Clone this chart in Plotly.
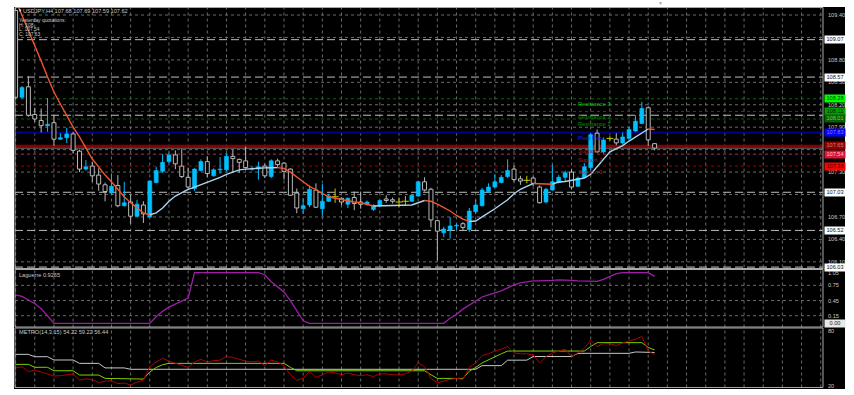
import plotly.graph_objects as go

# ---------------- data ----------------
bars = list(range(-1, 100))

opens = [109.46, 108.30, 108.44, 108.07, 107.99, 107.92, 107.96, 107.74, 107.76, 107.81,
         107.58, 107.34, 107.38, 107.26, 107.13, 107.02, 107.12, 106.85, 106.90, 106.71,
         106.86, 106.70, 107.16, 107.31, 107.44, 107.53, 107.38, 107.23, 107.08, 107.32,
         107.44, 107.25, 107.33, 107.33, 107.51, 107.47, 107.45, 107.34, 107.34, 107.38,
         107.24, 107.45, 107.42, 107.34, 107.02, 106.81, 106.86, 107.06, 106.81, 106.91,
         106.97, 106.95, 106.87, 106.96, 106.90, 106.87, 106.80, 106.85, 106.94, 106.93,
         106.90, 106.91, 106.91, 106.98, 107.17, 107.07, 106.65, 106.49, 106.53, 106.58,
         106.61, 106.53, 106.77, 106.85, 107.04, 107.10, 107.16, 107.24, 107.34, 107.21,
         107.19, 107.22, 107.10, 106.90, 107.06, 107.16, 107.23, 107.30, 107.11, 107.23,
         107.36, 107.82, 107.57, 107.75, 107.74, 107.69, 107.75, 107.85, 107.95, 108.16, 107.68]
highs = [109.52, 108.45, 108.58, 108.16, 108.15, 108.29, 108.06, 107.82, 107.89, 107.84,
         107.60, 107.46, 107.44, 107.35, 107.16, 107.28, 107.26, 107.17, 107.00, 106.93,
         106.91, 107.19, 107.37, 107.54, 107.56, 107.59, 107.61, 107.36, 107.35, 107.47,
         107.51, 107.35, 107.50, 107.55, 107.60, 107.48, 107.64, 107.38, 107.44, 107.41,
         107.47, 107.48, 107.43, 107.35, 107.08, 106.95, 107.12, 107.15, 107.14, 107.01,
         107.08, 106.96, 106.96, 107.04, 107.04, 106.92, 106.87, 106.93, 106.99, 106.96,
         106.96, 106.98, 107.00, 107.18, 107.23, 107.09, 106.66, 106.57, 106.70, 106.61,
         106.63, 106.82, 106.93, 107.09, 107.15, 107.27, 107.26, 107.47, 107.39, 107.25,
         107.25, 107.24, 107.12, 107.09, 107.40, 107.26, 107.32, 107.34, 107.24, 107.42,
         107.82, 107.87, 107.76, 107.78, 107.82, 107.83, 107.91, 108.06, 108.24, 108.18, 107.69]
lows = [108.27, 108.28, 108.04, 107.97, 107.83, 107.84, 107.65, 107.73, 107.69, 107.55,
        107.30, 107.32, 107.17, 107.05, 106.91, 107.00, 106.83, 106.84, 106.61, 106.70,
        106.62, 106.69, 107.15, 107.29, 107.42, 107.34, 107.22, 107.08, 107.05, 107.31,
        107.23, 107.24, 107.28, 107.31, 107.29, 107.29, 107.35, 107.32, 107.20, 107.22,
        107.22, 107.37, 107.20, 106.98, 106.75, 106.74, 106.83, 106.82, 106.71, 106.90,
        106.89, 106.86, 106.82, 106.79, 106.81, 106.85, 106.78, 106.84, 106.89, 106.88,
        106.83, 106.86, 106.90, 106.97, 107.04, 106.56, 106.12, 106.43, 106.41, 106.53,
        106.52, 106.50, 106.74, 106.84, 107.02, 107.09, 107.15, 107.22, 107.17, 107.13,
        107.15, 107.11, 106.88, 106.88, 107.05, 107.15, 107.18, 107.07, 107.10, 107.22,
        107.33, 107.56, 107.55, 107.72, 107.66, 107.67, 107.74, 107.84, 107.94, 107.65, 107.59]
closes = [108.30, 108.43, 108.06, 108.01, 107.92, 107.94, 107.74, 107.76, 107.81, 107.59,
          107.34, 107.37, 107.25, 107.14, 107.04, 107.11, 106.85, 106.89, 106.71, 106.87,
          106.74, 107.18, 107.32, 107.43, 107.53, 107.41, 107.24, 107.10, 107.34, 107.44,
          107.28, 107.33, 107.34, 107.51, 107.48, 107.43, 107.36, 107.35, 107.37, 107.25,
          107.45, 107.40, 107.31, 106.99, 106.82, 106.85, 107.07, 106.83, 106.91, 106.98,
          106.97, 106.90, 106.95, 106.88, 106.87, 106.90, 106.85, 106.92, 106.92, 106.91,
          106.90, 106.91, 106.99, 107.17, 107.06, 106.66, 106.51, 106.54, 106.58, 106.59,
          106.56, 106.78, 106.86, 107.06, 107.10, 107.17, 107.23, 107.32, 107.20, 107.18,
          107.19, 107.15, 106.89, 107.07, 107.17, 107.23, 107.29, 107.10, 107.22, 107.37,
          107.80, 107.57, 107.73, 107.75, 107.69, 107.77, 107.87, 107.98, 108.15, 107.73, 107.62]

moving_avg = [109.60, 109.40, 109.20, 109.00, 108.785, 108.57, 108.37, 108.21, 108.05, 107.90,
              107.77, 107.62, 107.475, 107.37, 107.26, 107.17, 107.07, 106.97, 106.89, 106.82,
              106.755, 106.73, 106.755, 106.82, 106.91, 106.98, 107.03, 107.07, 107.10, 107.13,
              107.17, 107.20, 107.23, 107.27, 107.30, 107.33, 107.34, 107.348, 107.354, 107.356,
              107.358, 107.36, 107.348, 107.30, 107.23, 107.17, 107.11, 107.06, 107.01, 106.97,
              106.95, 106.93, 106.91, 106.90, 106.89, 106.87, 106.847, 106.848, 106.849, 106.850,
              106.851, 106.853, 106.86, 106.89, 106.92, 106.91, 106.87, 106.83, 106.78, 106.72,
              106.67, 106.64, 106.646, 106.70, 106.75, 106.81, 106.87, 106.93, 107.01, 107.07,
              107.11, 107.147, 107.145, 107.141, 107.138, 107.167, 107.174, 107.187, 107.20, 107.22,
              107.27, 107.37, 107.475, 107.57, 107.615, 107.655, 107.715, 107.77, 107.83, 107.876, 107.869]

laguerre = [0.56, 0.53, 0.46, 0.39, 0.29, 0.15, 0, 0, 0, 0,
            0, 0, 0, 0, 0, 0, 0, 0, 0, 0,
            0, 0, 0.13, 0.24, 0.32, 0.38, 0.43, 0.50, 1.0, 1.0,
            1.0, 1.0, 1.0, 1.0, 1.0, 1.0, 1.0, 1.0, 1.0, 0.96,
            0.82, 0.72, 0.62, 0.45, 0.25, 0.05, 0, 0, 0, 0,
            0, 0, 0, 0, 0, 0, 0, 0, 0, 0,
            0, 0, 0, 0, 0, 0, 0, 0, 0.10, 0.18,
            0.28, 0.36, 0.44, 0.52, 0.56, 0.60, 0.64, 0.70, 0.76, 0.80,
            0.82, 0.84, 0.84, 0.84, 0.85, 0.86, 0.86, 0.85, 0.84, 0.84,
            0.84, 0.83, 0.87, 0.92, 0.98, 1.0, 1.0, 1.0, 1.0, 1.0, 0.9265]

metro_fast = [39.5, 40.8, 35.5, 37, 35, 33, 30.6, 31, 31.7, 33,
              26.3, 27.5, 26.8, 23.3, 25, 25.5, 22.3, 23, 20.7, 24,
              26, 40.8, 46, 50, 47, 44.5, 42, 40, 46, 49,
              45.7, 47.5, 48, 52, 51, 49, 47, 46, 47, 42,
              48, 46, 42, 32, 26, 28, 36, 29, 32, 35,
              34, 32, 34, 32, 31, 32, 30, 33, 33, 32,
              32, 33, 36, 45, 41, 28, 23, 25, 27, 28,
              27, 40, 45, 53, 55, 58, 60, 63, 56, 55,
              55, 54, 45, 52, 56, 58, 60, 52, 56, 61,
              70, 63, 66, 66, 64, 67, 69, 71, 74, 58, 54.22]
metro_step_fast = [43.4, 43.4, 43.4, 40.2, 40.2, 40.2, 36.4, 36.4, 36.4, 36.4,
                   31.7, 31.7, 31.7, 31.7, 28, 28, 28, 27.3, 27.3, 27.3,
                   27.3, 35, 40, 43, 44.5, 44.5, 44.5, 44.5, 44.5, 44.5,
                   44.5, 44.5, 44.5, 44.5, 44.5, 44.5, 44.5, 44.5, 44.5, 44.5,
                   44.5, 44.5, 44.5, 40.2, 36.4, 36.4, 36.4, 36.4, 36.4, 36.4,
                   36.4, 36.4, 36.4, 36.4, 36.4, 36.4, 36.4, 36.4, 36.4, 36.4,
                   36.4, 36.4, 36.4, 36.4, 36.4, 32, 28, 28, 28, 28,
                   28, 36, 40, 45, 48.5, 52, 55, 58, 58, 58,
                   58, 58, 58, 58, 58, 58, 58, 58, 58, 58,
                   63, 67.2, 67.2, 67.2, 67.2, 67.2, 67.2, 67.2, 67.2, 62, 59.22]
metro_step_slow = [54.4, 54.4, 54.4, 51.8, 51.8, 51.8, 48.2, 48.2, 48.2, 48.2,
                   44.5, 44.5, 44.5, 44.5, 39.5, 39.5, 39.5, 39.5, 38, 38,
                   38, 38, 38, 38, 38, 38, 38, 38, 38, 38,
                   38, 38, 38, 38, 38, 38, 38, 38, 38, 38,
                   38, 38, 38, 38, 38, 38, 38, 38, 38, 38,
                   38, 38, 38, 38, 38, 38, 38, 38, 38, 38,
                   38, 38, 38, 38, 38, 38, 38, 38, 38, 38,
                   38, 38, 38, 42, 42, 42, 42, 48, 48, 48,
                   48, 52, 52, 52, 52, 52, 52, 52, 55.5, 55.5,
                   55.5, 55.5, 55.5, 55.5, 55.5, 55.5, 55.5, 57, 57, 56.44, 56.44]

price_grid = [109.40, 109.10, 108.80, 108.50, 108.20, 107.90, 107.60, 107.30, 107.00, 106.70, 106.40, 106.10]
price_grid_labels = ["109.40", None, "108.80", "108.50", "108.20", "107.90", None, "107.30", None,
                     "106.70", "106.40", "106.10"]
round_levels = [109.07, 108.57, 108.06, 107.03, 106.52, 106.03]
round_labels = ["109.07", "108.57", None, "107.03", "106.52", "106.03"]
pivot_names = ["Resistance 3", "Resistance 2", "Resistance 1", "Pivot Point", "Support 1", "Support 2", "Support 3"]
pivot_levels = [108.28, 108.11, 108.01, 107.83, 107.65, 107.54, 107.38]
bid_price = 107.62
lag_grid = [0.75, 0.45, 0.15]
lag_labels = ["1.05", "0.75", "0.45", "0.15"]
metro_labels = ["80", "20"]
header = "USDJPY,H4 107.68 107.69 107.59 107.62"
yesterday = ["Yesterday quotations:", "H: 108", "L: 107.54", "C: 107.63"]

# ---------------- geometry / styles ----------------
W, H = 854, 395
PL, PR, PT, PB = 14, 845, 7, 389          # plot area in px
BAR0, STEP = 22.0, 6.39                   # bar centre px


def bx(px):
    return (px - BAR0) / STEP


def xp(px):
    return (px - PL) / (PR - PL)


def yp(py):
    return (PB - py) / (PB - PT)


def price_at(py):
    return 109.40 - (py - 15) / 74.8


def lag_at(py):
    return (323.3 - py) / 50.6


def met_at(py):
    return 80 - (py - 331) / 0.9117


MAIN_BOT, LAG_BOT, MET_BOT = 268.5, 327.0, 387.5
LEFT, RIGHT = 15, 823
X_L, X_R = bx(LEFT), bx(RIGHT)

CYAN = "#00BFFF"
BEARC = "#B8B8B8"
DOJI = "#C8C800"
GRID = "#6A6A6A"
FONT = "Liberation Sans"
FS = 5.6
TXT = "#C8C8C8"

fig = go.Figure()

n = len(bars)
bull = [i for i in range(n) if closes[i] > opens[i]]
bear = [i for i in range(n) if closes[i] < opens[i]]
doji = [i for i in range(n) if closes[i] == opens[i]]

# bodies
fig.add_trace(go.Bar(x=[bars[i] for i in bull], base=[opens[i] for i in bull],
                     y=[closes[i] - opens[i] for i in bull], width=0.62,
                     marker=dict(color=CYAN, line=dict(color=CYAN, width=0.6)), yaxis="y"))
fig.add_trace(go.Bar(x=[bars[i] for i in bear], base=[closes[i] for i in bear],
                     y=[opens[i] - closes[i] for i in bear], width=0.62,
                     marker=dict(color="black", line=dict(color=BEARC, width=1)), yaxis="y"))


def segs(idx, lo, hi):
    xs, ys = [], []
    for i in idx:
        xs += [bars[i], bars[i], None]
        ys += [lo(i), hi(i), None]
    return xs, ys


wx, wy = segs(bull, lambda i: lows[i], lambda i: highs[i])
fig.add_trace(go.Scatter(x=wx, y=wy, mode="lines", line=dict(color=CYAN, width=1), yaxis="y"))
ux, uy = segs(bear, lambda i: opens[i], lambda i: highs[i])
lx, ly = segs(bear, lambda i: lows[i], lambda i: closes[i])
fig.add_trace(go.Scatter(x=ux + lx, y=uy + ly, mode="lines", line=dict(color=BEARC, width=1), yaxis="y"))
dx, dy = segs(doji, lambda i: lows[i], lambda i: highs[i])
fig.add_trace(go.Scatter(x=dx, y=dy, mode="lines", line=dict(color=DOJI, width=1), yaxis="y"))
fig.add_trace(go.Scatter(x=[bars[i] for i in doji], y=[closes[i] for i in doji], mode="markers",
                         marker=dict(symbol="line-ew", size=5, line=dict(color=DOJI, width=1)), yaxis="y"))

# moving average coloured by direction
runs = {"down": ([], []), "up": ([], [])}
cur = None
for i in range(1, n):
    d = "down" if moving_avg[i] < moving_avg[i - 1] else "up"
    xs, ys = runs[d]
    if d != cur:
        if xs:
            xs.append(None)
            ys.append(None)
        xs += [bars[i - 1]]
        ys += [moving_avg[i - 1]]
        cur = d
    xs.append(bars[i])
    ys.append(moving_avg[i])
fig.add_trace(go.Scatter(x=runs["down"][0], y=runs["down"][1], mode="lines",
                         line=dict(color="#F2562E", width=1.4), yaxis="y"))
fig.add_trace(go.Scatter(x=runs["up"][0], y=runs["up"][1], mode="lines",
                         line=dict(color="#A9D6EE", width=1.4), yaxis="y"))

# Laguerre
fig.add_trace(go.Scatter(x=bars, y=laguerre, mode="lines", line=dict(color="#9C1FA6", width=1.3), yaxis="y2"))

# METRO
fig.add_trace(go.Scatter(x=bars, y=metro_step_slow, mode="lines", line=dict(color="#C8C8C8", width=1), yaxis="y3"))
fig.add_trace(go.Scatter(x=bars, y=metro_step_fast, mode="lines", line=dict(color="#7FD000", width=1), yaxis="y3"))
fig.add_trace(go.Scatter(x=bars, y=metro_fast, mode="lines", line=dict(color="#B00000", width=1), yaxis="y3"))

shapes = []
# vertical grid every 3 bars
v = -1
while bx(RIGHT) > v:
    shapes.append(dict(type="line", xref="x", yref="paper", x0=v, x1=v, y0=yp(MET_BOT), y1=yp(PT + 0.5),
                       line=dict(color=GRID, width=1, dash="dot"), layer="below"))
    v += 3
# horizontal price grid
for g in price_grid:
    shapes.append(dict(type="line", xref="x", yref="y", x0=X_L, x1=X_R, y0=g, y1=g,
                       line=dict(color=GRID, width=1, dash="dot"), layer="below"))
for g in lag_grid:
    shapes.append(dict(type="line", xref="x", yref="y2", x0=X_L, x1=X_R, y0=g, y1=g,
                       line=dict(color=GRID, width=1, dash="dot"), layer="below"))
# round levels
for g in round_levels:
    shapes.append(dict(type="line", xref="x", yref="y", x0=X_L, x1=X_R, y0=g, y1=g,
                       line=dict(color="#BEBEBE", width=1, dash="8px,4px"), layer="below"))
# pivot levels
piv_line = [("#007000", 1, "dot"), ("#006000", 1, "dot"), ("#006400", 1, "dot"),
            ("#00008B", 2, "solid"), ("#850000", 2.2, "solid"), ("#B03048", 1, "dot"), ("#A00000", 1, "dot")]
for g, (c, w, d) in zip(pivot_levels, piv_line):
    shapes.append(dict(type="line", xref="x", yref="y", x0=X_L, x1=X_R, y0=g, y1=g,
                       line=dict(color=c, width=w, dash=d), layer="below"))
shapes.append(dict(type="line", xref="x", yref="y", x0=X_L, x1=X_R, y0=bid_price, y1=bid_price,
                   line=dict(color="#9A9A9A", width=0.8), layer="below"))
# panel frames
for top, bot in [(PT + 0.5, MAIN_BOT), (MAIN_BOT + 1, LAG_BOT), (LAG_BOT + 1, MET_BOT)]:
    shapes.append(dict(type="rect", xref="paper", yref="paper", x0=xp(LEFT), x1=xp(RIGHT),
                       y0=yp(bot), y1=yp(top), line=dict(color="#A8A8A8", width=1)))

ann = []


def text(px, py, s, color=TXT, size=FS, anchor="left", **kw):
    ann.append(dict(xref="paper", yref="paper", x=xp(px), y=yp(py), text=s, showarrow=False,
                    xanchor=anchor, yanchor="middle", font=dict(family=FONT, size=size, color=color), **kw))


# header texts
text(15.5, 10.6, "▼", color="#E0E0E0", size=4.2)
text(21, 10.6, header)
for k, s in enumerate(yesterday):
    text(17, 20.5 + 4.6 * k, s, size=4.9)
text(17, 274.7, "Laguerre 0.9265")
text(17, 331.5, "METRO(14,3,15) 54.22 59.22 56.44")
text(660, 3.5, "▼", color="#A0A0A0", size=5, anchor="center")

# price axis labels
for g, s in zip(price_grid, price_grid_labels):
    if s:
        ann.append(dict(xref="paper", yref="y", x=xp(826), y=g, text=s, showarrow=False,
                        xanchor="left", yanchor="middle", font=dict(family=FONT, size=FS, color=TXT)))


def box(y, yref, s, bg, fg):
    ann.append(dict(xref="paper", yref=yref, x=xp(823.5), y=y, text=s, showarrow=False,
                    xanchor="left", yanchor="middle", bgcolor=bg, width=20, height=6.5, borderpad=0,
                    align="center", font=dict(family=FONT, size=FS, color=fg)))


for g, s in zip(round_levels, round_labels):
    if s:
        box(g, "y", s, "#FFFFFF", "#101010")
piv_box = [("#00FF00", "#003000"), ("#00A000", "#002000"), ("#006400", "#80C080"),
           ("#0000FF", "#8080FF"), ("#8B0000", "#D08080"), ("#DC143C", "#FFC0C0"), ("#FF0000", "#400000")]
for g, (bg, fg) in zip(pivot_levels, piv_box):
    box(g, "y", f"{g:.2f}", bg, fg)

# pivot names
piv_txt = ["#00C000", "#008800", "#009000", "#2020FF", "#A01818", "#B02030", "#B01818"]
for g, s, c in zip(pivot_levels, pivot_names, piv_txt):
    ann.append(dict(xref="paper", yref="y", x=xp(576), y=g, text=s, showarrow=False, yshift=-0.5,
                    xanchor="left", yanchor="top", font=dict(family=FONT, size=FS, color=c)))

# Laguerre axis
for s, py in zip(lag_labels, [273.3, 285.3, 301.0, 316.0]):
    text(826, py, s)
box(0.0, "y2", "0.00", "#E8E8E8", "#202020")
# METRO axis
for s, py in zip(metro_labels, [331.0, 385.7]):
    text(826, py, s)

fig.update_layout(
    width=W, height=H, showlegend=False, barmode="overlay",
    margin=dict(l=PL, r=W - PR, t=PT, b=H - PB, pad=0),
    paper_bgcolor="white", plot_bgcolor="black",
    xaxis=dict(range=[bx(PL), bx(PR)], visible=False, fixedrange=True),
    yaxis=dict(domain=[yp(MAIN_BOT), 1], range=[price_at(MAIN_BOT), price_at(PT)], visible=False),
    yaxis2=dict(domain=[yp(LAG_BOT), yp(MAIN_BOT)], range=[lag_at(LAG_BOT), lag_at(MAIN_BOT)],
                visible=False, anchor="x"),
    yaxis3=dict(domain=[0, yp(LAG_BOT)], range=[met_at(PB), met_at(LAG_BOT)], visible=False, anchor="x"),
    shapes=shapes, annotations=ann,
)

fig.write_html("out.html")
